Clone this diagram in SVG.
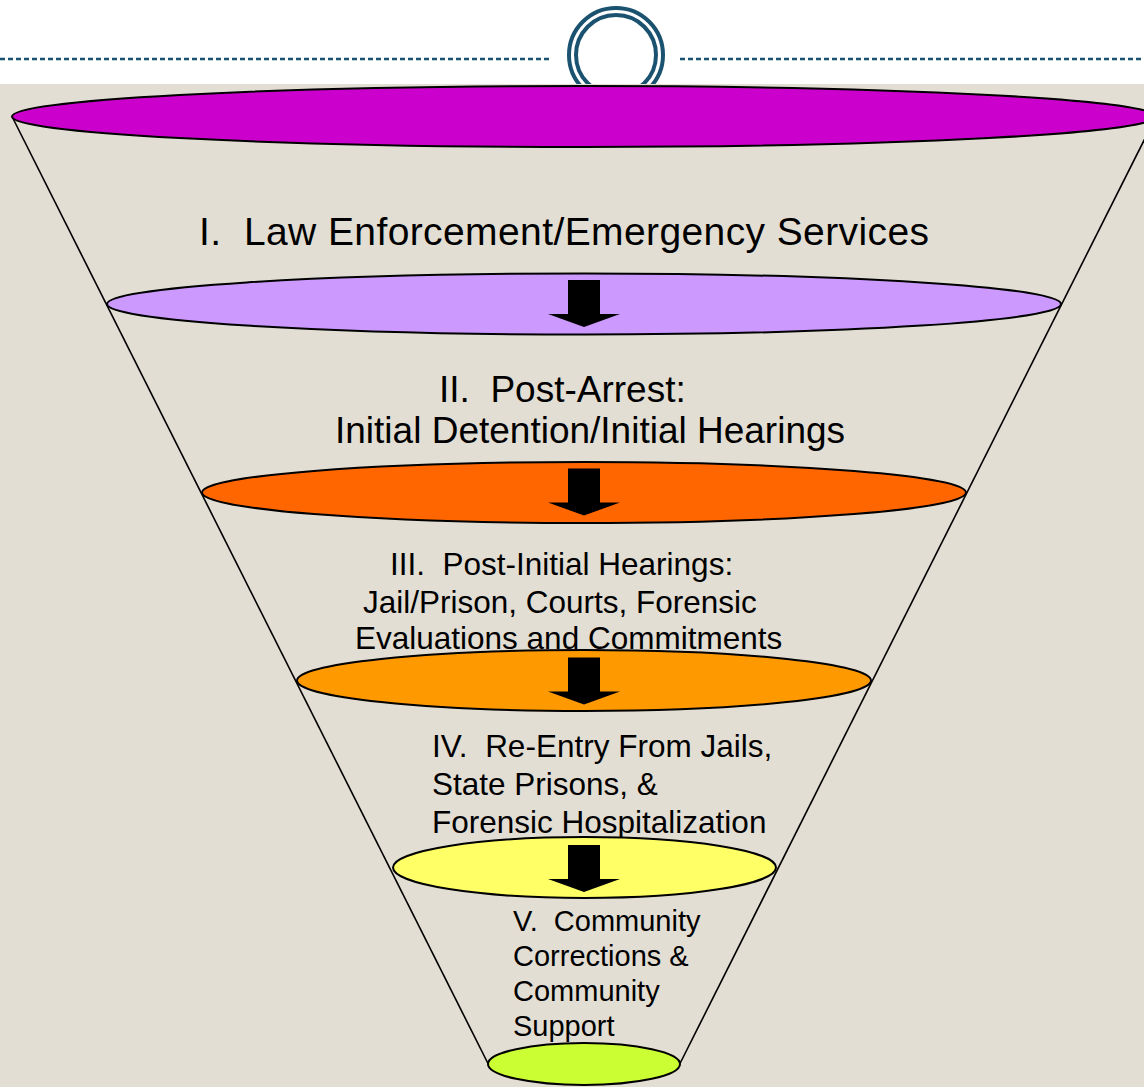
<svg xmlns="http://www.w3.org/2000/svg" width="1144" height="1087" viewBox="0 0 1144 1087">
  <style>
    .ring { fill: none; stroke: #1a5270; stroke-width: 4; }
    .rule { stroke: #1a5270; stroke-width: 2.5; stroke-dasharray: 5 3; }
    .side { stroke: #000; stroke-width: 1.6; fill: none; }
    .disc { stroke: #000; stroke-width: 2; }
    .arrow { fill: #000; }
    text { font-family: "Liberation Sans", Arial, Helvetica, sans-serif; fill: #000; white-space: pre; }
    .t1 { font-size: 39px; }
    .t2 { font-size: 37px; }
    .t3 { font-size: 31.5px; }
    .t5 { font-size: 29px; }
  </style>
  <defs>
    <!-- down arrow, origin at top centre of the shaft -->
    <polygon id="down" class="arrow" points="-16,0 16,0 16,34 36,34 0,47 -36,34 -16,34"/>
  </defs>

  <!-- header band -->
  <rect x="0" y="0" width="1144" height="84" fill="#ffffff"/>
  <g id="header">
    <line class="rule" x1="0" y1="59" x2="552" y2="59"/>
    <line class="rule" x1="680" y1="59" x2="1144" y2="59"/>
    <circle class="ring" cx="616" cy="55" r="47"/>
    <circle class="ring" cx="616" cy="55" r="40"/>
  </g>

  <!-- panel -->
  <rect x="0" y="84" width="1144" height="1003" fill="#e3ded3"/>

  <!-- funnel sides -->
  <g id="connectors">
    <line class="side" x1="12" y1="116.5" x2="488" y2="1063.5"/>
    <line class="side" x1="1156" y1="116.5" x2="680" y2="1063.5"/>
  </g>

  <g id="stage1">
    <text class="t1" x="199" y="245" textLength="730">I.  Law Enforcement/Emergency Services</text>
  </g>
  <g id="stage2">
    <text class="t2" x="439" y="402">II.  Post-Arrest:</text>
    <text class="t2" x="335" y="443">Initial Detention/Initial Hearings</text>
  </g>
  <g id="stage3">
    <text class="t3" x="390" y="575">III.  Post-Initial Hearings:</text>
    <text class="t3" x="363" y="613">Jail/Prison, Courts, Forensic</text>
    <text class="t3" x="355" y="649">Evaluations and Commitments</text>
  </g>
  <g id="stage4">
    <text class="t3" x="432" y="757">IV.  Re-Entry From Jails,</text>
    <text class="t3" x="432" y="795">State Prisons, &amp;</text>
    <text class="t3" x="432" y="833">Forensic Hospitalization</text>
  </g>
  <g id="stage5">
    <text class="t5" x="513" y="931">V.  Community</text>
    <text class="t5" x="513" y="966">Corrections &amp;</text>
    <text class="t5" x="513" y="1001">Community</text>
    <text class="t5" x="513" y="1036">Support</text>
  </g>

  <!-- funnel rims -->
  <g id="rim1"><ellipse class="disc" cx="584" cy="116.5" rx="572" ry="30.5" fill="#cc00cc" stroke-width="2.5"/></g>
  <g id="rim2">
    <ellipse class="disc" cx="584" cy="304" rx="477" ry="30.5" fill="#cc99ff"/>
    <use href="#down" x="584" y="280"/>
  </g>
  <g id="rim3">
    <ellipse class="disc" cx="584" cy="492.5" rx="382" ry="30.5" fill="#ff6600"/>
    <use href="#down" x="584" y="468.5"/>
  </g>
  <g id="rim4">
    <ellipse class="disc" cx="584" cy="680.5" rx="287" ry="30.5" fill="#ff9900"/>
    <use href="#down" x="584" y="657.5"/>
  </g>
  <g id="rim5">
    <ellipse class="disc" cx="584.5" cy="867.5" rx="191.5" ry="30.5" fill="#ffff66"/>
    <use href="#down" x="584" y="845"/>
  </g>
  <g id="rim6"><ellipse class="disc" cx="584" cy="1064" rx="96" ry="21" fill="#ccff33"/></g>
</svg>
